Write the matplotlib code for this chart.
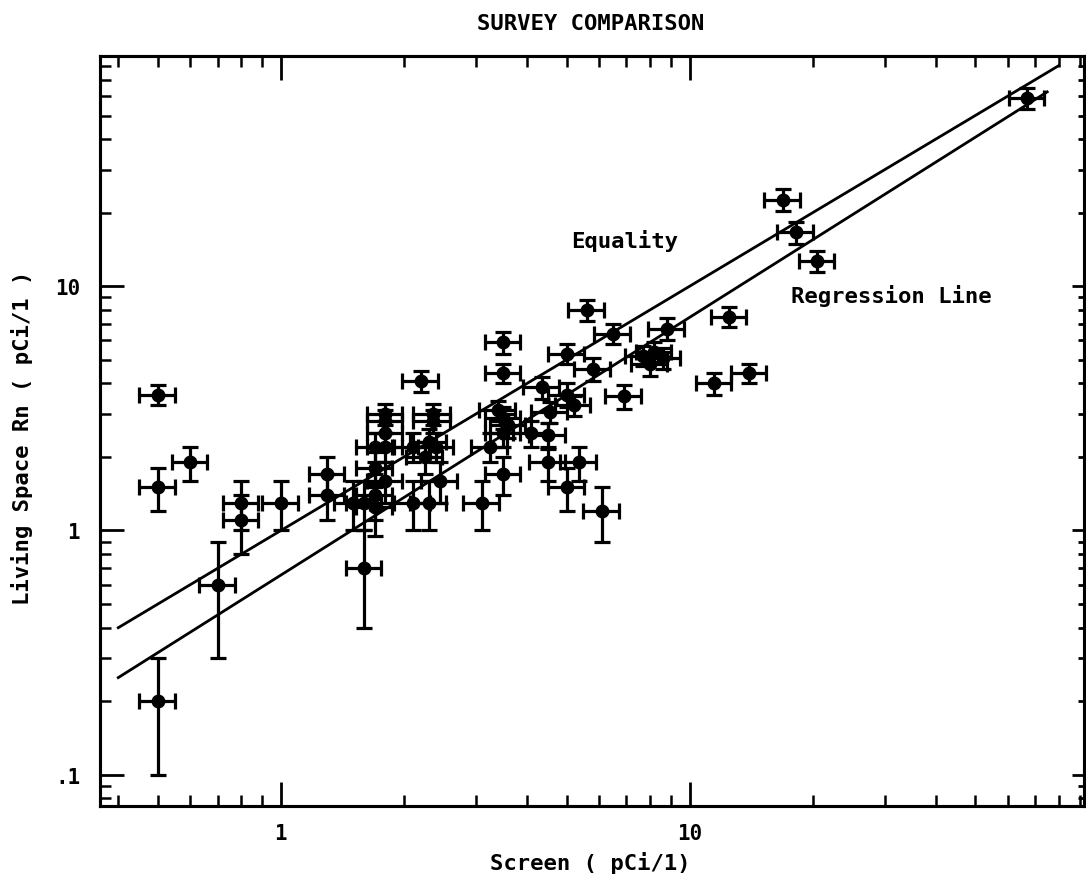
import numpy as np
import matplotlib
matplotlib.use("Agg")
import matplotlib.pyplot as plt
from matplotlib.ticker import FixedLocator, FixedFormatter, LogLocator, NullFormatter

# Survey comparison: screen vs living space radon (pCi/l)
screen = [0.5, 0.5, 0.6, 0.5, 0.7, 0.8, 0.8, 1.0, 1.3, 1.3,
          1.5, 1.6, 1.6, 1.7, 1.7, 1.7, 1.8, 1.8, 1.8, 1.8,
          1.7, 1.8, 2.1, 2.2, 2.3, 2.35, 2.35, 2.1, 2.25, 2.4, 2.3, 2.45,
          3.1, 3.25, 3.5, 3.5, 3.5, 3.4, 3.5, 3.6, 3.5,
          4.1, 4.35, 4.5, 4.55, 4.5, 5.0, 5.0, 5.2, 5.35, 5.0,
          5.6, 5.8, 6.1, 6.5, 6.9, 7.7, 8.0, 8.2, 8.6, 8.8,
          11.5, 12.5, 14.0, 16.9, 18.2, 20.5, 67.0]
living = [3.6, 1.5, 1.9, 0.2, 0.6, 1.3, 1.1, 1.3, 1.7, 1.4,
          1.3, 0.7, 1.3, 1.25, 1.4, 1.8, 1.6, 3.0, 2.8, 2.5,
          2.2, 2.2, 1.3, 4.1, 1.3, 3.0, 2.8, 2.2, 2.0, 2.2, 2.3, 1.6,
          1.3, 2.2, 1.7, 5.9, 4.4, 3.1, 2.9, 2.7, 2.5,
          2.5, 3.85, 2.45, 3.05, 1.9, 5.3, 3.6, 3.25, 1.9, 1.5,
          8.0, 4.6, 1.2, 6.4, 3.55, 5.2, 4.8, 5.4, 5.1, 6.7,
          4.0, 7.5, 4.4, 22.6, 16.6, 12.7, 59.0]
screen_err = [0.05, 0.05, 0.06, 0.05, 0.07, 0.08, 0.08, 0.1, 0.13, 0.13,
              0.15, 0.16, 0.16, 0.17, 0.17, 0.17, 0.18, 0.18, 0.18, 0.18,
              0.17, 0.18, 0.21, 0.22, 0.23, 0.24, 0.24, 0.21, 0.23, 0.24, 0.23, 0.25,
              0.31, 0.33, 0.35, 0.35, 0.35, 0.34, 0.35, 0.36, 0.35,
              0.41, 0.44, 0.45, 0.46, 0.45, 0.5, 0.5, 0.52, 0.54, 0.5,
              0.56, 0.58, 0.61, 0.65, 0.69, 0.77, 0.8, 0.82, 0.86, 0.88,
              1.15, 1.25, 1.4, 1.7, 1.8, 2.0, 6.7]
living_err = [0.35, 0.3, 0.3, 0.1, 0.3, 0.3, 0.3, 0.3, 0.3, 0.3,
              0.3, 0.3, 0.3, 0.3, 0.3, 0.3, 0.3, 0.3, 0.3, 0.3,
              0.3, 0.3, 0.3, 0.4, 0.3, 0.3, 0.3, 0.3, 0.3, 0.3, 0.3, 0.3,
              0.3, 0.3, 0.3, 0.6, 0.4, 0.3, 0.3, 0.3, 0.3,
              0.3, 0.4, 0.3, 0.3, 0.3, 0.5, 0.4, 0.3, 0.3, 0.3,
              0.8, 0.5, 0.3, 0.6, 0.4, 0.5, 0.5, 0.5, 0.5, 0.7,
              0.4, 0.7, 0.4, 2.3, 1.7, 1.3, 6.0]

# equality and fitted regression (y = a * x^b)
line_x = np.array([0.4, 80.0])
reg_x = np.array([0.4, 75.0])
reg_a, reg_b = 0.657, 1.055

plt.rcParams['font.family'] = ['DejaVu Sans Mono']
plt.rcParams['font.weight'] = 'bold'

fig = plt.figure(figsize=(10.86, 8.78), dpi=100)
ax = fig.add_axes([0.0917, 0.0809, 0.906, 0.854])

ax.errorbar(screen, living, xerr=screen_err, yerr=living_err, fmt='o',
            color='black', ms=9, elinewidth=2.3, capsize=5.5, capthick=2.3)
ax.plot(line_x, line_x, color='black', lw=2)
ax.plot(reg_x, reg_a * reg_x ** reg_b, color='black', lw=2)

ax.set_xscale('log')
ax.set_yscale('log')
ax.set_xlim(0.36, 92)
ax.set_ylim(0.0745, 87.5)

ax.xaxis.set_major_locator(FixedLocator([1, 10]))
ax.xaxis.set_major_formatter(FixedFormatter(['1', '10']))
ax.xaxis.set_minor_locator(LogLocator(base=10, subs=np.arange(2, 10)))
ax.xaxis.set_minor_formatter(NullFormatter())
ax.yaxis.set_major_locator(FixedLocator([0.1, 1, 10]))
ax.yaxis.set_major_formatter(FixedFormatter(['.1', '1', '10']))
ax.yaxis.set_minor_locator(LogLocator(base=10, subs=np.arange(2, 10)))
ax.yaxis.set_minor_formatter(NullFormatter())

ax.tick_params(which='both', direction='in', top=True, right=False, labelsize=15)
ax.tick_params(which='major', length=17, width=2)
ax.tick_params(which='minor', length=8, width=1.8)
ax.tick_params(axis='x', pad=12)
ax.tick_params(axis='y', pad=14)

# right side has short ticks only
ax2 = ax.twinx()
ax2.set_yscale('log')
ax2.set_ylim(ax.get_ylim())
ax2.yaxis.set_major_locator(FixedLocator([0.1, 1, 10]))
ax2.yaxis.set_minor_locator(LogLocator(base=10, subs=np.arange(2, 10)))
ax2.tick_params(which='both', direction='in', labelright=False)
ax2.tick_params(which='major', length=9, width=2)
ax2.tick_params(which='minor', length=4, width=2)

for sp in list(ax.spines.values()) + list(ax2.spines.values()):
    sp.set_linewidth(2.2)

ax.text(0.534, 0.755, 'Equality', transform=ax.transAxes, ha='center', va='center', fontsize=16)
ax.text(0.805, 0.681, 'Regression Line', transform=ax.transAxes, ha='center', va='center', fontsize=16)

fig.text(0.544, 0.973, 'SURVEY COMPARISON', ha='center', va='center', fontsize=16)
fig.text(0.544, 0.017, 'Screen ( pCi/1)', ha='center', va='center', fontsize=16)
fig.text(0.020, 0.501, 'Living Space Rn ( pCi/1 )', ha='center', va='center',
         rotation=90, fontsize=16)

fig.savefig('out.png', dpi=100)
